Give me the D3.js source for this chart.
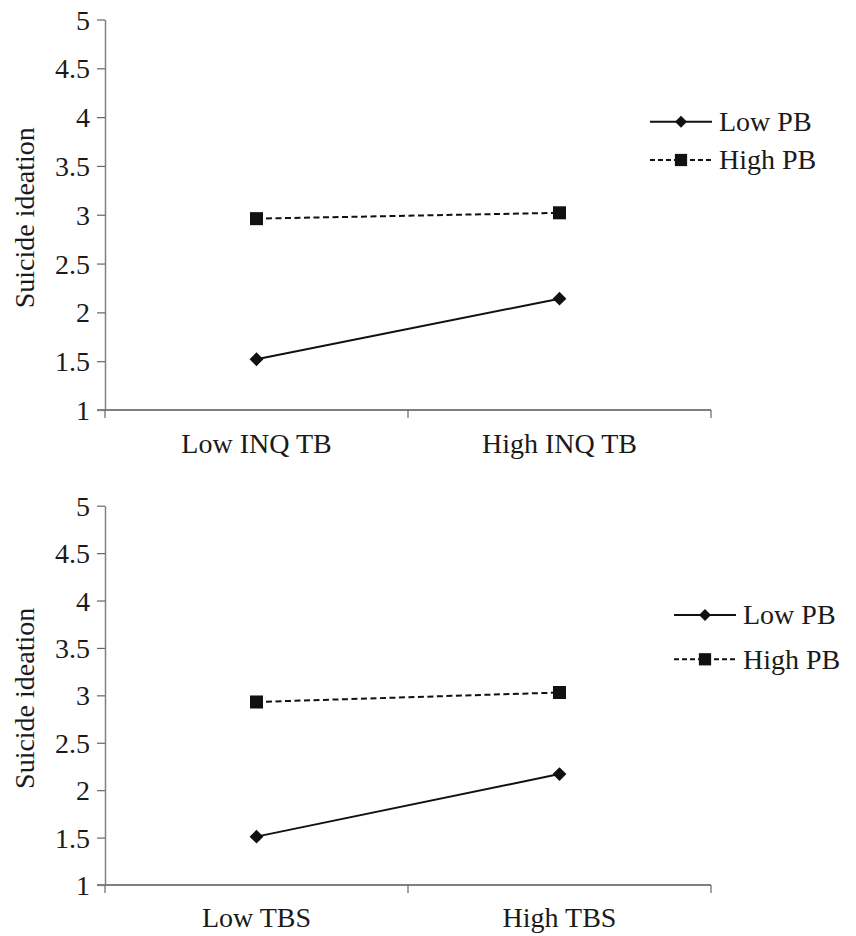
<!DOCTYPE html>
<html>
<head>
<meta charset="utf-8">
<script src="https://cdn.jsdelivr.net/npm/d3@7"></script>
<style>
  body { margin: 0; background: #fff; }
  svg { display: block; }
  svg text { font-family: "Times New Roman", Times, "Liberation Serif", Tinos, "Nimbus Roman", serif !important; fill: #1a1a1a; }
</style>
</head>
<body>
<div id="chart"></div>
<script>
// values
var yTicks = [1, 1.5, 2, 2.5, 3, 3.5, 4, 4.5, 5];
var seriesNames = ["Low PB", "High PB"];
var topCategories = ["Low INQ TB", "High INQ TB"];
var topLowPB = [1.52, 2.14];
var topHighPB = [2.96, 3.02];
var bottomCategories = ["Low TBS", "High TBS"];
var bottomLowPB = [1.51, 2.17];
var bottomHighPB = [2.93, 3.03];

var width = 856, height = 936;
var fontFam = "'Times New Roman', Times, 'Liberation Serif', Tinos, serif";
var svg = d3.select("#chart").append("svg")
    .attr("width", width)
    .attr("height", height)
    .attr("font-family", fontFam);

var panels = [
    {cats: topCategories, low: topLowPB, high: topHighPB,
     top: 19.5, bottom: 410, labelY: 453, legX: 650, legY: [121.7, 160]},
    {cats: bottomCategories, low: bottomLowPB, high: bottomHighPB,
     top: 505.7, bottom: 885, labelY: 926.5, legX: 674, legY: [615, 659.3]}
];

var left = 105, right = 711;

panels.forEach(function (p) {
    var g = svg.append("g");
    var x = d3.scaleBand().domain(p.cats).range([left, right]).padding(0);
    var y = d3.scaleLinear().domain([1, 5]).range([p.bottom, p.top]);

    // y axis
    var yAxis = g.append("g")
        .attr("transform", "translate(" + left + ",0)")
        .call(d3.axisLeft(y).tickValues(yTicks).tickSize(8).tickSizeOuter(0)
            .tickFormat(d3.format("")));
    yAxis.attr("font-family", fontFam);
    yAxis.select(".domain").attr("stroke", "#808080").attr("stroke-width", 1.5);
    yAxis.selectAll(".tick line").attr("stroke", "#666").attr("stroke-width", 1.2);
    yAxis.selectAll(".tick text")
        .attr("x", -15)
        .attr("dy", "0.34em")
        .style("font-size", "28px")
        .attr("fill", "#1a1a1a");

    // x axis with ticks on category boundaries
    g.append("line")
        .attr("x1", left - 8).attr("x2", right)
        .attr("y1", y(1)).attr("y2", y(1))
        .attr("stroke", "#808080").attr("stroke-width", 2);
    var bounds = p.cats.map(function (c) { return x(c); }).concat([x.range()[1]]);
    g.selectAll(".xtick").data(bounds).enter().append("line")
        .attr("x1", function (d) { return d; })
        .attr("x2", function (d) { return d; })
        .attr("y1", y(1)).attr("y2", y(1) + 8)
        .attr("stroke", "#666").attr("stroke-width", 1.2);
    g.selectAll(".xlab").data(p.cats).enter().append("text")
        .attr("x", function (d) { return x(d) + x.bandwidth() / 2; })
        .attr("y", p.labelY)
        .attr("text-anchor", "middle")
        .style("font-size", "28px")
        .text(function (d) { return d; });

    // y title
    g.append("text")
        .attr("transform", "translate(34," + ((p.top + p.bottom) / 2 + 3) + ") rotate(-90)")
        .attr("text-anchor", "middle")
        .style("font-size", "28px")
        .text("Suicide ideation");

    var cx = function (i) { return x(p.cats[i]) + x.bandwidth() / 2; };
    var line = d3.line()
        .x(function (d, i) { return cx(i); })
        .y(function (d) { return y(d); });

    g.append("path").datum(p.high)
        .attr("d", line).attr("fill", "none")
        .attr("stroke", "#111").attr("stroke-width", 2)
        .attr("stroke-dasharray", "6,3.5");
    g.append("path").datum(p.low)
        .attr("d", line).attr("fill", "none")
        .attr("stroke", "#111").attr("stroke-width", 2);

    g.selectAll(".sq").data(p.high).enter().append("path")
        .attr("transform", function (d, i) { return "translate(" + cx(i) + "," + y(d) + ")"; })
        .attr("d", d3.symbol().type(d3.symbolSquare).size(170)).attr("fill", "#111");
    g.selectAll(".dm").data(p.low).enter().append("path")
        .attr("transform", function (d, i) { return "translate(" + cx(i) + "," + y(d) + ") rotate(45)"; })
        .attr("d", d3.symbol().type(d3.symbolSquare).size(95)).attr("fill", "#111");

    // legend
    var leg = g.append("g");
    seriesNames.forEach(function (name, i) {
        var ly = p.legY[i];
        leg.append("line")
            .attr("x1", p.legX).attr("x2", p.legX + 62)
            .attr("y1", ly).attr("y2", ly)
            .attr("stroke", "#111").attr("stroke-width", 2)
            .attr("stroke-dasharray", i === 1 ? "5,3" : null);
        if (i === 0) {
            leg.append("path")
                .attr("transform", "translate(" + (p.legX + 31) + "," + ly + ") rotate(45)")
                .attr("d", d3.symbol().type(d3.symbolSquare).size(72)).attr("fill", "#111");
        } else {
            leg.append("path")
                .attr("transform", "translate(" + (p.legX + 31) + "," + ly + ")")
                .attr("d", d3.symbol().type(d3.symbolSquare).size(150)).attr("fill", "#111");
        }
        leg.append("text")
            .attr("x", p.legX + 69)
            .attr("y", ly)
            .attr("dy", "0.33em")
            .style("font-size", "28px")
            .text(name);
    });
});
</script>
</body>
</html>
